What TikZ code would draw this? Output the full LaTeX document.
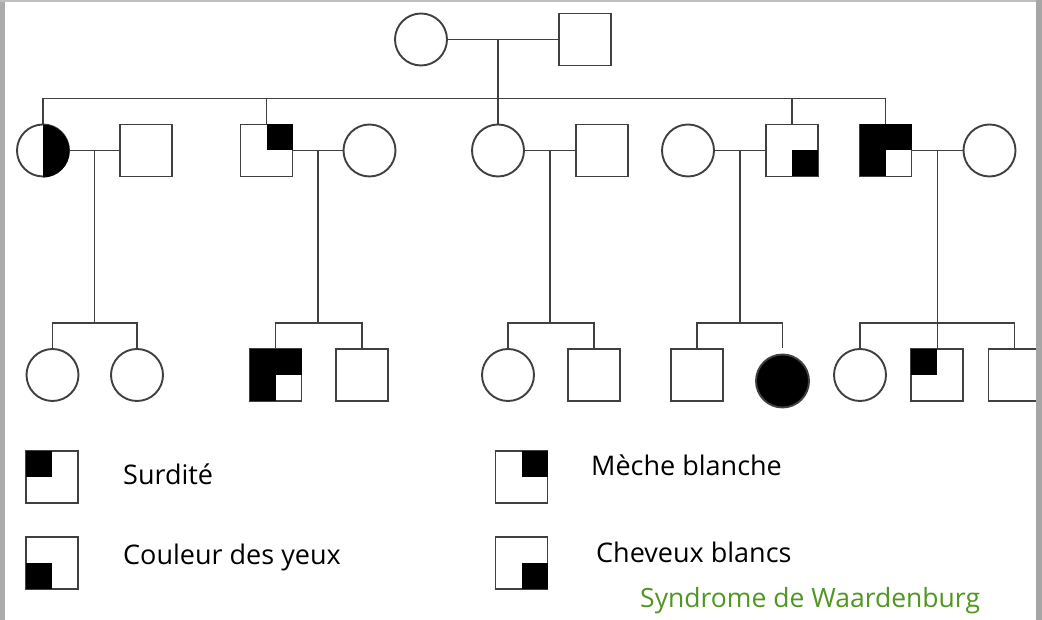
\documentclass[tikz,border=0pt]{standalone}
\usepackage{fontspec}
\setmainfont{Open Sans}
\usetikzlibrary{calc}
\definecolor{titlegreen}{RGB}{80,150,32}
\tikzset{
	lin/.style={line width=1.9pt, color=black!75},
	male/.style={rectangle, draw=black!75, line width=1.9pt, minimum size=52pt, inner sep=0pt, outer sep=0pt},
	female/.style={circle, draw=black!75, line width=1.9pt, minimum size=52pt, inner sep=0pt, outer sep=0pt},
	legtext/.style={anchor=base west, inner sep=0pt, font=\fontsize{27}{30}\selectfont}
}
\def\fillquart(#1)(#2){\fill (#1.center) rectangle (#1.#2);}

\begin{document}
\begin{tikzpicture}[x=1pt, y=1pt]
			%%%%% START %%%%%
			\useasboundingbox (0,0) rectangle (1042,620);
			\fill[white] (0,0) rectangle (1042,620);
			
			% generation I
			\node[female] (gm) at (421,580.5) {};
			\node[male] (gp) at (585,580.5) {};
			\draw[lin] (gm) -- (gp);
			
			% generation II
			\node[female] (w1) at (43,469.5) {};
			\node[male] (h1) at (146,469.5) {};
			\node[male] (m2) at (266.5,469.5) {};
			\node[female] (w2) at (369.5,469.5) {};
			\node[female] (w3) at (498,469.5) {};
			\node[male] (h3) at (602,469.5) {};
			\node[female] (w4) at (688,469.5) {};
			\node[male] (m4) at (792,469.5) {};
			\node[male] (m5) at (885.5,469.5) {};
			\node[female] (w5) at (989.5,469.5) {};
			
			\draw[lin] (w3.north) -- (w3.north |- gm);
			\draw[lin] (w1.north) -- ++(0,26) -| (m5.north);
			\draw[lin] (m2.north) -- ++(0,26);
			\draw[lin] (m4.north) -- ++(0,26);
			
			\draw[lin] (w1) -- (h1);
			\draw[lin] (m2) -- (w2);
			\draw[lin] (w3) -- (h3);
			\draw[lin] (w4) -- (m4);
			\draw[lin] (m5) -- (w5);
			
			\coordinate (f1) at ($(w1)!0.5!(h1)$);
			\coordinate (f2) at ($(m2)!0.5!(w2)$);
			\coordinate (f3) at ($(w3)!0.5!(h3)$);
			\coordinate (f4) at ($(w4)!0.5!(m4)$);
			\coordinate (f5) at ($(m5)!0.5!(w5)$);
			
			\fill (w1.north) arc[start angle=90, end angle=-90, radius=26.5] -- cycle;
			\fillquart(m2)(north east)
			\fillquart(m4)(south east)
			\fillquart(m5)(north west)
			\fillquart(m5)(north east)
			\fillquart(m5)(south west)
			
			% generation III
			\node[female] (c11) at (52.5,245) {};
			\node[female] (c12) at (137,245) {};
			\node[male] (c21) at (275.5,245) {};
			\node[male] (c22) at (362,245) {};
			\node[female] (c31) at (508,245) {};
			\node[male] (c32) at (594,245) {};
			\node[male] (c41) at (697,245) {};
			\node[female, fill=black, minimum size=53pt] (c42) at (782.5,239) {};
			\node[female] (c51) at (860,245) {};
			\node[male] (c52) at (937,245) {};
			\node[male] (c53) at (1014.5,245) {};
			
			\draw[lin] (f1) -- (f1 |- 0,297);
			\draw[lin] (f2) -- (f2 |- 0,297);
			\draw[lin] (f3) -- (f3 |- 0,297);
			\draw[lin] (f4) -- (f4 |- 0,297);
			\draw[lin] (f5) -- (f5 |- c52.north);
			
			\draw[lin] (c11.north) -- ++(0,26) -| (c12.north);
			\draw[lin] (c21.north) -- ++(0,26) -| (c22.north);
			\draw[lin] (c31.north) -- ++(0,26) -| (c32.north);
			\draw[lin] (c41.north) -- ++(0,26) -| ($(c42.north)+(0,6)$);
			\draw[lin] (c51.north) -- ++(0,26) -| (c53.north);
			
			\fillquart(c21)(north west)
			\fillquart(c21)(north east)
			\fillquart(c21)(south west)
			\fillquart(c52)(north west)
			
			% legend
			\node[male] (l1) at (52,143) {};
			\node[male] (l2) at (52,57) {};
			\node[male] (l3) at (521.5,143) {};
			\node[male] (l4) at (521.5,57) {};
			\fillquart(l1)(north west)
			\fillquart(l2)(south west)
			\fillquart(l3)(north east)
			\fillquart(l4)(south east)
			
			\node[legtext] (t1) at (123,135) {Surdité};
			\node[legtext] (t2) at (123,55) {Couleur des yeux};
			\node[legtext] (t3) at (591,144) {Mèche blanche};
			\node[legtext] (t4) at (596,57) {Cheveux blancs};
			\node[legtext, text=titlegreen, font=\fontsize{26.5}{30}\selectfont] (t5) at (640,12) {Syndrome de Waardenburg};
			
			% frame
			\fill[black!33] (0,0) rectangle (5,620);
			\fill[black!25] (0,618) rectangle (1042,620);
			\fill[black!35] (1036,0) rectangle (1042,620);
			%%%%% END %%%%%
\end{tikzpicture}
\end{document}
